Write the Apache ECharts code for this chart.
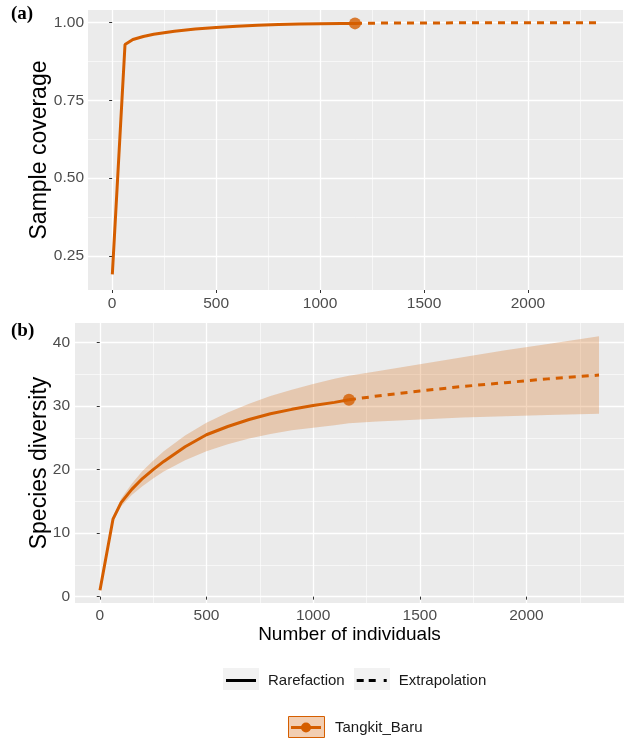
<!DOCTYPE html>
<html>
<head>
<meta charset="utf-8">
<script src="https://cdn.jsdelivr.net/npm/echarts@6/dist/echarts.min.js"></script>
<style>
html,body{margin:0;padding:0;background:#fff;}
#chart{width:624px;height:740px;}
</style>
</head>
<body>
<div id="chart"></div>
<script>
// ---------- data ----------
const xRare = [1, 62, 100, 150, 200, 250, 300, 400, 500, 600, 700, 800, 900, 1000, 1100, 1168];
const xExtra = [1168, 1300, 1500, 1700, 1900, 2100, 2340];
const coverageRare = [0.19, 0.929, 0.945, 0.955, 0.962, 0.967, 0.972, 0.979, 0.984, 0.988, 0.991, 0.993, 0.995, 0.996, 0.997, 0.997];
const coverageExtra = [0.997, 0.998, 0.998, 0.999, 0.999, 0.999, 0.999];
const diversityRare = [1, 12.2, 14.8, 16.9, 18.6, 20.0, 21.3, 23.6, 25.5, 26.8, 27.9, 28.8, 29.5, 30.1, 30.6, 31.0];
const diversityExtra = [31.0, 31.6, 32.4, 33.1, 33.7, 34.3, 34.9];
const xBand = [1, 62, 100, 150, 200, 250, 300, 400, 500, 600, 700, 800, 900, 1000, 1100, 1168, 1300, 1500, 1700, 1900, 2100, 2340];
const diversityLower = [1, 12.0, 14.2, 16.0, 17.4, 18.6, 19.7, 21.5, 22.9, 24.0, 24.9, 25.6, 26.2, 26.6, 27.0, 27.3, 27.6, 27.9, 28.2, 28.4, 28.6, 28.8];
const diversityUpper = [1, 12.4, 15.4, 17.8, 19.8, 21.4, 22.9, 25.4, 27.4, 29.0, 30.4, 31.6, 32.6, 33.5, 34.3, 34.8, 35.5, 36.6, 37.7, 38.8, 39.8, 41.0];
const xTicks = [0, 500, 1000, 1500, 2000];
const xMinorTicks = [250, 750, 1250, 1750, 2250];
const covTicks = [0.25, 0.50, 0.75, 1.00];
const covMinorTicks = [0.375, 0.625, 0.875];
const divTicks = [0, 10, 20, 30, 40];
const divMinorTicks = [5, 15, 25, 35];
const siteName = 'Tangkit_Baru';
const methodNames = ['Rarefaction', 'Extrapolation'];

// ---------- styling ----------
const ORANGE = '#D55E00';
const FONT = 'Liberation Sans, Arial, Helvetica, sans-serif';
const pairs = (xs, ys) => xs.map((x, i) => [x, ys[i]]);

function mainX(grid, min, max, margin) {
  return {
    gridIndex: grid, type: 'value', min: min, max: max,
    axisLine: {show: false},
    axisTick: {show: true, length: 3, lineStyle: {color: '#333', width: 1}, customValues: xTicks},
    axisLabel: {customValues: xTicks, color: '#4D4D4D', fontSize: 15.5, margin: margin, fontFamily: FONT, formatter: v => String(v)},
    splitLine: {show: true, lineStyle: {color: '#fff', width: 1.3}}
  };
}
function minorX(grid, min, max) {
  return {
    gridIndex: grid, type: 'value', min: min, max: max,
    axisLine: {show: false}, axisTick: {show: false, customValues: xMinorTicks},
    axisLabel: {show: false},
    splitLine: {show: true, lineStyle: {color: '#fff', width: 0.6}}
  };
}
function mainY(grid, min, max, ticks, fmt, name, gap, margin) {
  return {
    gridIndex: grid, type: 'value', min: min, max: max,
    name: name, nameLocation: 'middle', nameGap: gap, nameMoveOverlap: false,
    nameTextStyle: {fontSize: 23, color: '#000', fontFamily: FONT},
    axisLine: {show: false},
    axisTick: {show: true, length: 3, lineStyle: {color: '#333', width: 1}, customValues: ticks},
    axisLabel: {customValues: ticks, color: '#4D4D4D', fontSize: 15.5, margin: margin, fontFamily: FONT, formatter: fmt},
    splitLine: {show: true, lineStyle: {color: '#fff', width: 1.3}}
  };
}
function minorY(grid, min, max, ticks) {
  return {
    gridIndex: grid, type: 'value', min: min, max: max,
    axisLine: {show: false}, axisTick: {show: false, customValues: ticks},
    axisLabel: {show: false},
    splitLine: {show: true, lineStyle: {color: '#fff', width: 0.6}}
  };
}

const chart = echarts.init(document.getElementById('chart'), null, {renderer: 'canvas'});
const xa = mainX(1, -116, 2457, 5);
xa.name = 'Number of individuals';
xa.nameLocation = 'middle';
xa.nameGap = 22;
xa.nameMoveOverlap = false;
xa.nameTextStyle = {fontSize: 19, color: '#000', fontFamily: FONT};

const ICON_SOLID = 'path://M0,0H30V3H0Z';
const ICON_DASH = 'path://M0,0H7V3H0Z M12,0H19V3H12Z M27,0H30V3H27Z';
const ICON_SITE = 'path://M0,3.5H30V6.5H0Z M20,5A5,5 0 1 1 10,5A5,5 0 1 1 20,5Z';

const option = {
  animation: false,
  backgroundColor: '#fff',
  textStyle: {fontFamily: FONT},
  grid: [
    {left: 88, top: 10, width: 535, height: 280, show: true, backgroundColor: '#EBEBEB', borderWidth: 0},
    {left: 75, top: 323, width: 551, height: 280, show: true, backgroundColor: '#EBEBEB', borderWidth: 0}
  ],
  xAxis: [
    mainX(0, -116, 2457, 6),
    minorX(0, -116, 2457),
    xa,
    minorX(1, -116, 2457)
  ],
  yAxis: [
    mainY(0, 0.14, 1.04, covTicks, v => v.toFixed(2), 'Sample coverage', 37, 4),
    minorY(0, 0.14, 1.04, covMinorTicks),
    mainY(1, -1.0, 43.1, divTicks, v => String(v), 'Species diversity', 24, 5),
    minorY(1, -1.0, 43.1, divMinorTicks)
  ],
  legend: [
    {
      data: [
        {name: methodNames[0], icon: ICON_SOLID, itemStyle: {color: '#000'}},
        {name: methodNames[1], icon: ICON_DASH, itemStyle: {color: '#000'}}
      ],
      left: 226, top: 673, orient: 'horizontal', padding: 0,
      itemWidth: 30, itemHeight: 3, itemGap: 12,
      textStyle: {fontSize: 15, color: '#1a1a1a', fontFamily: FONT, padding: [0, 0, 0, 7]},
      selectedMode: false
    },
    {
      data: [{name: siteName, icon: ICON_SITE, itemStyle: {color: ORANGE}}],
      left: 291, top: 720, padding: 0,
      itemWidth: 30, itemHeight: 10,
      textStyle: {fontSize: 15, color: '#1a1a1a', fontFamily: FONT, padding: [0, 0, 0, 9]},
      selectedMode: false
    }
  ],
  graphic: [
    {type: 'text', left: 11, top: 5, style: {text: '(a)', font: 'bold 19px "Liberation Serif", "Times New Roman", serif', fill: '#000'}},
    {type: 'text', left: 11, top: 322, style: {text: '(b)', font: 'bold 19px "Liberation Serif", "Times New Roman", serif', fill: '#000'}},
    {type: 'rect', shape: {x: 223, y: 668, width: 36, height: 22}, style: {fill: '#F2F2F2'}, z: -1},
    {type: 'rect', shape: {x: 354, y: 668, width: 36, height: 22}, style: {fill: '#F2F2F2'}, z: -1},
    {type: 'rect', shape: {x: 288.5, y: 716.5, width: 36, height: 21}, style: {fill: 'rgba(213,94,0,0.3)', stroke: ORANGE, lineWidth: 1}, z: -1}
  ],
  series: [
    // dummy series that only feed the legends
    {name: methodNames[0], type: 'line', xAxisIndex: 2, yAxisIndex: 2, data: [], symbol: 'none', lineStyle: {color: '#000', width: 3}, itemStyle: {color: '#000'}},
    {name: methodNames[1], type: 'line', xAxisIndex: 2, yAxisIndex: 2, data: [], symbol: 'none', lineStyle: {color: '#000', width: 3, type: [7, 6]}, itemStyle: {color: '#000'}},
    {name: siteName, type: 'line', xAxisIndex: 2, yAxisIndex: 2, data: [], symbol: 'circle', symbolSize: 12, lineStyle: {color: ORANGE, width: 3}, itemStyle: {color: ORANGE}},
    // panel (a)
    {name: 'covRare', type: 'line', xAxisIndex: 0, yAxisIndex: 0, data: pairs(xRare, coverageRare), symbol: 'none', silent: true,
      lineStyle: {color: ORANGE, width: 3}, z: 3},
    {name: 'covExtra', type: 'line', xAxisIndex: 0, yAxisIndex: 0, data: pairs(xExtra, coverageExtra), symbol: 'none', silent: true,
      lineStyle: {color: ORANGE, width: 3, type: [7, 6]}, z: 3},
    {name: 'covObs', type: 'scatter', xAxisIndex: 0, yAxisIndex: 0, data: [[xRare[xRare.length - 1], coverageRare[coverageRare.length - 1]]],
      symbolSize: 12, itemStyle: {color: ORANGE}, silent: true, z: 4},
    // panel (b) confidence band
    {name: 'band', type: 'custom', xAxisIndex: 2, yAxisIndex: 2, silent: true, z: 2,
      data: xBand.map((x, i) => [x, diversityLower[i], diversityUpper[i]]),
      encode: {x: 0, y: [1, 2]},
      renderItem: function (params, api) {
        if (params.dataIndex !== 0) return null;
        const pts = [];
        for (let i = 0; i < xBand.length; i++) pts.push(api.coord([xBand[i], diversityUpper[i]]));
        for (let i = xBand.length - 1; i >= 0; i--) pts.push(api.coord([xBand[i], diversityLower[i]]));
        return {type: 'polygon', shape: {points: pts}, style: {fill: 'rgba(213,94,0,0.25)'}};
      }
    },
    {name: 'divRare', type: 'line', xAxisIndex: 2, yAxisIndex: 2, data: pairs(xRare, diversityRare), symbol: 'none', silent: true,
      lineStyle: {color: ORANGE, width: 3}, z: 3},
    {name: 'divExtra', type: 'line', xAxisIndex: 2, yAxisIndex: 2, data: pairs(xExtra, diversityExtra), symbol: 'none', silent: true,
      lineStyle: {color: ORANGE, width: 3, type: [7, 6]}, z: 3},
    {name: 'divObs', type: 'scatter', xAxisIndex: 2, yAxisIndex: 2, data: [[xRare[xRare.length - 1], diversityRare[diversityRare.length - 1]]],
      symbolSize: 12, itemStyle: {color: ORANGE}, silent: true, z: 4}
  ]
};
chart.setOption(option);
</script>
</body>
</html>
